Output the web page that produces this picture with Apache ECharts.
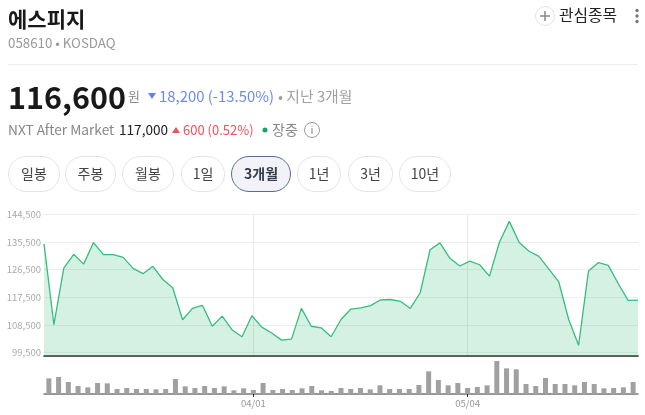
<!DOCTYPE html>
<html><head><meta charset="utf-8">
<style>html,body{margin:0;padding:0;background:#fff}#c{width:645px;height:415px}</style>
<script src="https://cdn.jsdelivr.net/npm/echarts@6/dist/echarts.min.js"></script>
</head><body><div id="c"></div>
<script>
const dates = ['03/03','03/04','03/05','03/06','03/09','03/10','03/11','03/12','03/13','03/16','03/17','03/18','03/19','03/20','03/23','03/24','03/25','03/26','03/27','03/30','03/31',
'04/01','04/02','04/03','04/06','04/07','04/08','04/09','04/10','04/13','04/14','04/15','04/16','04/17','04/20','04/21','04/22','04/23','04/24','04/27','04/28','04/29','04/30',
'05/04','05/06','05/07','05/08','05/11','05/12','05/13','05/14','05/15','05/18','05/19','05/20','05/21','05/22','05/26','05/27','05/28','05/29'];
const prices = [134900,108600,127000,131500,128300,135300,131400,131400,130500,126900,125200,127600,123300,120600,110200,113900,114900,108100,111400,106900,104700,111500,107800,105900,103600,103900,113900,108100,107600,104700,110300,113700,114100,114800,116700,116800,116200,113900,119000,133000,135200,130200,127700,129300,128100,124400,135400,142200,135300,132500,130800,126700,122500,110300,101900,126100,128800,127900,122000,116500,116600];
const volumes = [470,510,360,240,200,330,320,150,180,150,150,140,150,450,230,180,240,180,230,110,170,120,330,120,150,120,170,240,110,90,180,150,180,140,260,150,150,150,270,680,420,260,330,180,210,260,990,770,740,300,240,480,300,300,260,360,300,170,180,200,360];
const yTicks = [99500,108500,117500,126500,135500,144500];
const dateTicks = ['04/01','05/04'];
const buttons = [['일봉',8,60],['주봉',65,116],['월봉',122,174],['1일',181,225],['3개월',231,291],['1년',297,341],['3년',348,393],['10년',399,451]];

const FONT = '"Noto Sans CJK KR","Noto Sans",sans-serif';
function t(x,y,text,size,fill,opt){
  return {type:'text',x,y,silent:true,style:Object.assign({text,fontSize:size,fontFamily:FONT,fill,textVerticalAlign:'middle',verticalAlign:'middle'},opt||{})};
}
const g = [
  t(8,19,'에스피지',21,'#191919',{fontWeight:'bold'}),
  t(8,43,'058610 • KOSDAQ',13.3,'#999999'),
  {type:'line',shape:{x1:8,y1:64.5,x2:638,y2:64.5},style:{stroke:'#eeeeee',lineWidth:1},silent:true},
  {type:'circle',shape:{cx:545,cy:16,r:9.5},style:{fill:'#fff',stroke:'#e3e3e3',lineWidth:1},silent:true},
  {type:'line',shape:{x1:540,y1:16,x2:550,y2:16},style:{stroke:'#888',lineWidth:1.5},silent:true},
  {type:'line',shape:{x1:545,y1:11,x2:545,y2:21},style:{stroke:'#888',lineWidth:1.5},silent:true},
  t(559,15,'관심종목',15.8,'#222222'),
  {type:'circle',shape:{cx:637,cy:10.5,r:1.7},style:{fill:'#777'},silent:true},
  {type:'circle',shape:{cx:637,cy:16,r:1.7},style:{fill:'#777'},silent:true},
  {type:'circle',shape:{cx:637,cy:21.5,r:1.7},style:{fill:'#777'},silent:true},
  t(8,97,'116,600',30.5,'#191919',{fontWeight:'bold'}),
  t(128,96,'원',13,'#888888'),
  {type:'polygon',shape:{points:[[148,93],[156,93],[152,99]]},style:{fill:'#6382ea'},silent:true},
  t(159,96,'18,200 (-13.50%)',14.9,'#6c8ae8'),
  t(278,96,'• 지난 3개월',14.8,'#a0a0a0'),
  t(8,130,'NXT After Market',13.7,'#888888'),
  t(119,130,'117,000',13.6,'#222222'),
  {type:'polygon',shape:{points:[[172,133],[180,133],[176,127]]},style:{fill:'#f5505a'},silent:true},
  t(183,130,'600 (0.52%)',13,'#f5505a'),
  {type:'circle',shape:{cx:265,cy:130,r:2.5},style:{fill:'#12a565'},silent:true},
  t(272,130,'장중',14,'#888888'),
  {type:'circle',shape:{cx:312,cy:130,r:7.5},style:{fill:'#fff',stroke:'#999',lineWidth:1},silent:true},
  t(312,130,'i',11,'#888888',{align:'center',textAlign:'center'})
];
buttons.forEach(b=>{
  const active = b[0]==='3개월';
  g.push({type:'rect',shape:{x:b[1]+.5,y:156.5,width:b[2]-b[1]-1,height:35,r:17.5},silent:true,
    style:{fill:active?'#f1f3f8':'#fff',stroke:active?'#5b6b92':'#e4e4e4',lineWidth:1}});
  g.push(t((b[1]+b[2])/2,174,b[0],14,active?'#333b4d':'#444444',{align:'center',textAlign:'center',fontWeight:active?'bold':'normal'}));
});
const chart = echarts.init(document.getElementById('c'));
chart.setOption({
  animation:false,
  graphic:g,
  grid:[
    {left:44,right:7,top:214.3,height:141.7},
    {left:44,right:7,top:361,height:33}
  ],
  xAxis:[
    {type:'category',gridIndex:0,data:dates,boundaryGap:false,axisLine:{show:true,lineStyle:{color:'#222',width:1.5}},axisTick:{show:false},axisLabel:{show:false},splitLine:{show:false}},
    {type:'category',gridIndex:1,data:dates,boundaryGap:true,
      axisLine:{show:true,lineStyle:{color:'#777',width:1.5}},
      axisTick:{show:true,alignWithLabel:true,length:3,lineStyle:{color:'#222'},interval:(i,v)=>dateTicks.includes(v)},
      axisLabel:{show:true,color:'#999',fontSize:9.5,fontFamily:FONT,margin:5,interval:(i,v)=>dateTicks.includes(v)},
      splitLine:{show:false}},
    {type:'category',gridIndex:0,data:dates,boundaryGap:true,position:'top',
      axisLine:{show:false},axisLabel:{show:false},
      axisTick:{show:false,alignWithLabel:true,interval:(i,v)=>dateTicks.includes(v)},
      splitLine:{show:true,alignWithLabel:true,interval:(i,v)=>dateTicks.includes(v),lineStyle:{color:'#e8e8e8',width:1}}}
  ],
  yAxis:[
    {type:'value',gridIndex:0,min:98430,max:144500,position:'left',
      axisLine:{show:false},
      axisTick:{show:false,customValues:yTicks},
      axisLabel:{color:'#aaaaaa',fontSize:9.5,fontFamily:FONT,margin:3,customValues:yTicks,formatter:v=>v.toLocaleString('en-US')},
      splitLine:{show:true,lineStyle:{color:'#eeeeee',width:1}}},
    {type:'value',gridIndex:1,min:0,max:990,axisLine:{show:false},axisTick:{show:false},axisLabel:{show:false},splitLine:{show:false}}
  ],
  series:[
    {type:'line',xAxisIndex:0,yAxisIndex:0,data:prices,symbol:'none',z:3,
      lineStyle:{color:'#36bd7e',width:1.3},areaStyle:{color:'#36bd7e',opacity:0.21,origin:'start'}},
    {type:'bar',xAxisIndex:1,yAxisIndex:1,data:volumes,barWidth:5,itemStyle:{color:'#a0a0a0'}}
  ]
});
</script></body></html>
